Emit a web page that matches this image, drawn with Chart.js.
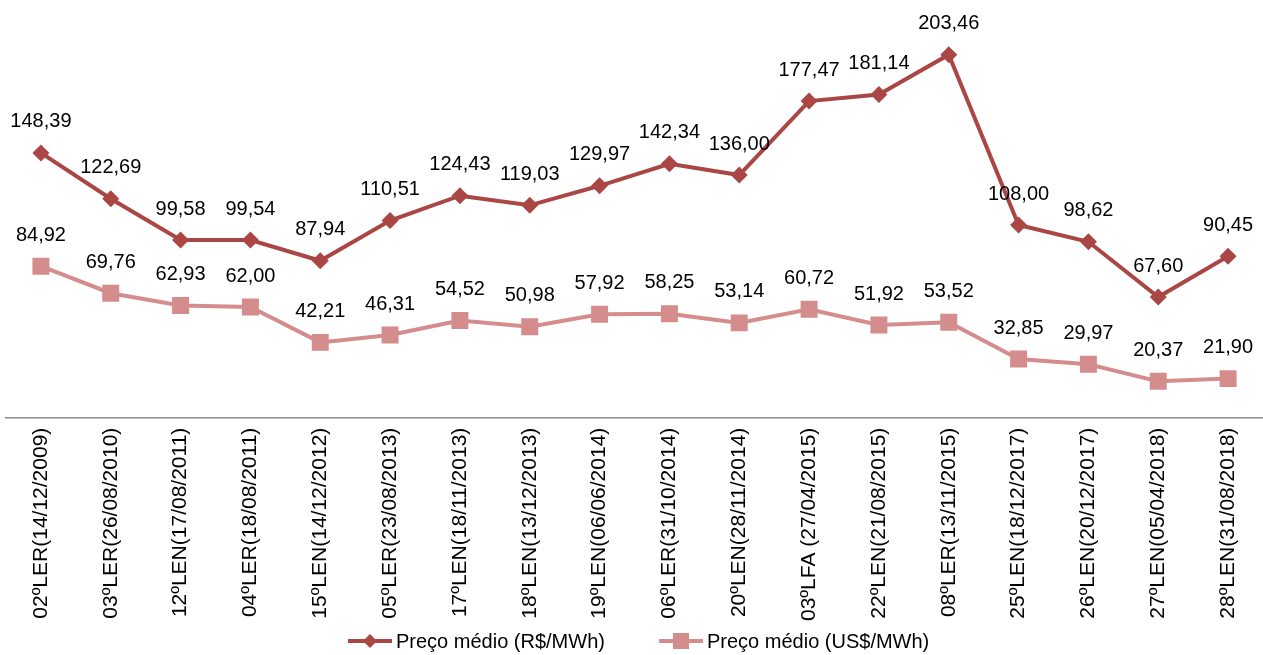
<!DOCTYPE html>
<html>
<head>
<meta charset="utf-8">
<script src="https://cdn.jsdelivr.net/npm/chart.js@4"></script>
<style>
  html, body { margin: 0; padding: 0; background: #fff; overflow: hidden; }
  #wrap { position: relative; width: 1263px; height: 655px; }
  #precoChart { display: block; }
  .leg { position: absolute; top: 629px; height: 24px; display: flex; align-items: center;
         font: 20px "Liberation Sans", Arial, sans-serif; color: #000; white-space: nowrap; }
  .leg svg { margin-right: 3px; }
</style>
</head>
<body>
<div id="wrap">
  <canvas id="precoChart"></canvas>
  <div id="legenda"></div>
</div>
<script>
// ==========================================
// Preço médio dos leilões (R$ e US$ por MWh)
// ==========================================

const leiloes = [
    '02ºLER(14/12/2009)', '03ºLER(26/08/2010)', '12ºLEN(17/08/2011)', '04ºLER(18/08/2011)',
    '15ºLEN(14/12/2012)', '05ºLER(23/08/2013)', '17ºLEN(18/11/2013)', '18ºLEN(13/12/2013)',
    '19ºLEN(06/06/2014)', '06ºLER(31/10/2014)', '20ºLEN(28/11/2014)', '03ºLFA (27/04/2015)',
    '22ºLEN(21/08/2015)', '08ºLER(13/11/2015)', '25ºLEN(18/12/2017)', '26ºLEN(20/12/2017)',
    '27ºLEN(05/04/2018)', '28ºLEN(31/08/2018)'
];
const precoReal = [148.39, 122.69, 99.58, 99.54, 87.94, 110.51, 124.43, 119.03, 129.97,
    142.34, 136.00, 177.47, 181.14, 203.46, 108.00, 98.62, 67.60, 90.45];
const precoDolar = [84.92, 69.76, 62.93, 62.00, 42.21, 46.31, 54.52, 50.98, 57.92,
    58.25, 53.14, 60.72, 51.92, 53.52, 32.85, 29.97, 20.37, 21.90];

const corReal = '#AA4643';
const corDolar = '#D48D8C';
const fonte = '"Liberation Sans", Arial, sans-serif';

// rótulos de valor acima de cada ponto
const valueLabels = {
    id: 'valueLabels',
    afterDatasetsDraw(chart) {
        const ctx = chart.ctx;
        ctx.save();
        ctx.font = '20px ' + fonte;
        ctx.fillStyle = '#000';
        ctx.textAlign = 'center';
        ctx.textBaseline = 'middle';
        chart.data.datasets.forEach((ds, i) => {
            chart.getDatasetMeta(i).data.forEach((pt, j) => {
                ctx.fillText(ds.data[j].toFixed(2).replace('.', ','), pt.x, pt.y - 31);
            });
        });
        ctx.restore();
    }
};

const chart = new Chart(document.getElementById('precoChart'), {
    type: 'line',
    data: {
        labels: leiloes,
        datasets: [
            { label: 'Preço médio (R$/MWh)', data: precoReal, borderColor: corReal, backgroundColor: corReal,
              borderWidth: 4, pointStyle: 'rectRot', pointRadius: 8.5, pointBorderWidth: 0, tension: 0 },
            { label: 'Preço médio (US$/MWh)', data: precoDolar, borderColor: corDolar, backgroundColor: corDolar,
              borderWidth: 4, pointStyle: 'rect', pointRadius: 12, pointBorderWidth: 0, tension: 0 }
        ]
    },
    options: {
        responsive: true, maintainAspectRatio: false, animation: false,
        layout: { autoPadding: false, padding: { top: 10, left: 6, right: 0, bottom: 32 } },
        plugins: { tooltip: { enabled: false }, legend: { display: false } },
        scales: {
            x: {
                offset: true,
                grid: { display: false },
                border: { color: '#8c8c8c', width: 1.5 },
                ticks: { color: '#000', font: { family: fonte, size: 21 }, minRotation: 90, maxRotation: 90, autoSkip: false, padding: 2 }
            },
            y: { display: false, min: 0, max: 228.5 }
        }
    },
    plugins: [valueLabels]
});

// legenda: linha + marcador, como no original
const legendPos = [347, 658];
chart.data.datasets.forEach((ds, i) => {
    const marker = i === 0
        ? `<polygon points="23,2 30,9 23,16 16,9" fill="${ds.borderColor}"/>`
        : `<rect x="15" y="1" width="16" height="16" fill="${ds.borderColor}"/>`;
    const item = document.createElement('div');
    item.className = 'leg';
    item.style.left = legendPos[i] + 'px';
    item.innerHTML = `<svg width="46" height="18"><line x1="1" y1="9" x2="45" y2="9" stroke="${ds.borderColor}" stroke-width="4"/>${marker}</svg><span>${ds.label}</span>`;
    document.getElementById('legenda').appendChild(item);
});
</script>
</body>
</html>
